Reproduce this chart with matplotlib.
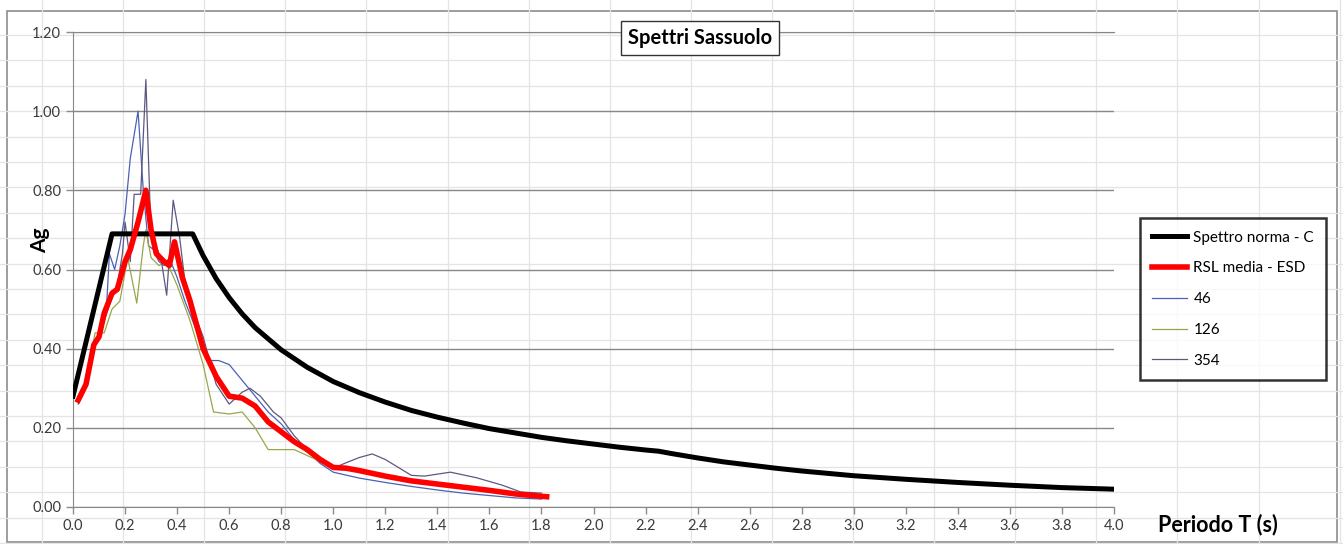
import numpy as np
import matplotlib
matplotlib.use("Agg")
import matplotlib.pyplot as plt
from matplotlib.patches import Rectangle

plt.rcParams['font.family'] = ['Lato', 'DejaVu Sans']

# spettro di normativa - categoria C
T_norma = [0.0, 0.15, 0.46, 0.5, 0.55, 0.6, 0.65, 0.7, 0.8, 0.9, 1.0, 1.1, 1.2, 1.3, 1.4,
           1.5, 1.6, 1.7, 1.8, 1.9, 2.0, 2.1, 2.2, 2.25, 2.3, 2.4, 2.5, 2.6, 2.7, 2.8, 2.9,
           3.0, 3.2, 3.4, 3.6, 3.8, 4.0]
A_norma = [0.28, 0.69, 0.69, 0.635, 0.577, 0.529, 0.488, 0.453, 0.397, 0.353, 0.317, 0.289,
           0.265, 0.244, 0.227, 0.212, 0.198, 0.187, 0.176, 0.167, 0.159, 0.151, 0.144, 0.141,
           0.135, 0.124, 0.114, 0.106, 0.098, 0.091, 0.085, 0.079, 0.070, 0.062, 0.055, 0.049,
           0.045]

# RSL media
T_rsl = [0.02, 0.05, 0.08, 0.10, 0.12, 0.15, 0.17, 0.20, 0.22, 0.25, 0.28, 0.30, 0.32, 0.35,
         0.37, 0.39, 0.42, 0.45, 0.50, 0.55, 0.60, 0.65, 0.70, 0.75, 0.80, 0.85, 0.90, 0.95,
         1.00, 1.05, 1.10, 1.20, 1.30, 1.40, 1.50, 1.60, 1.70, 1.80, 1.82]
A_rsl = [0.27, 0.31, 0.41, 0.43, 0.49, 0.54, 0.55, 0.62, 0.65, 0.72, 0.80, 0.70, 0.64, 0.62,
         0.61, 0.67, 0.58, 0.52, 0.40, 0.33, 0.28, 0.275, 0.255, 0.215, 0.19, 0.165, 0.145,
         0.12, 0.10, 0.098, 0.092, 0.078, 0.066, 0.058, 0.050, 0.042, 0.033, 0.027, 0.026]

# accelerogramma 46
T_46 = [0.02, 0.05, 0.08, 0.10, 0.13, 0.14, 0.16, 0.18, 0.20, 0.22, 0.25, 0.27, 0.29, 0.31,
        0.33, 0.35, 0.37, 0.40, 0.43, 0.46, 0.50, 0.53, 0.56, 0.60, 0.65, 0.70, 0.75, 0.80,
        0.85, 0.90, 0.95, 1.00, 1.10, 1.20, 1.30, 1.40, 1.50, 1.60, 1.70, 1.80]
A_46 = [0.27, 0.32, 0.40, 0.44, 0.52, 0.64, 0.60, 0.66, 0.74, 0.88, 1.00, 0.80, 0.66, 0.65,
        0.62, 0.61, 0.63, 0.58, 0.52, 0.47, 0.40, 0.37, 0.37, 0.36, 0.32, 0.28, 0.24, 0.21,
        0.17, 0.14, 0.11, 0.088, 0.073, 0.062, 0.052, 0.043, 0.035, 0.029, 0.023, 0.02]

# accelerogramma 126
T_126 = [0.02, 0.05, 0.085, 0.12, 0.15, 0.18, 0.21, 0.245, 0.27, 0.28, 0.30, 0.33, 0.36, 0.40,
         0.45, 0.50, 0.54, 0.60, 0.65, 0.70, 0.75, 0.85, 0.90, 0.95, 1.00, 1.10, 1.20, 1.30,
         1.40, 1.50, 1.60, 1.70, 1.80]
A_126 = [0.28, 0.32, 0.44, 0.44, 0.50, 0.52, 0.63, 0.515, 0.66, 0.70, 0.63, 0.61, 0.62, 0.56,
         0.47, 0.36, 0.24, 0.235, 0.24, 0.20, 0.145, 0.145, 0.13, 0.115, 0.10, 0.09, 0.08,
         0.07, 0.06, 0.05, 0.042, 0.035, 0.028]

# accelerogramma 354
T_354 = [0.02, 0.05, 0.08, 0.10, 0.13, 0.15, 0.17, 0.19, 0.20, 0.22, 0.235, 0.26, 0.28, 0.30,
         0.32, 0.34, 0.36, 0.385, 0.41, 0.43, 0.46, 0.50, 0.55, 0.60, 0.65, 0.68, 0.72, 0.77,
         0.80, 0.85, 0.90, 0.95, 1.00, 1.05, 1.10, 1.15, 1.20, 1.30, 1.35, 1.45, 1.55, 1.65,
         1.72, 1.80]
A_354 = [0.26, 0.31, 0.40, 0.43, 0.49, 0.53, 0.56, 0.64, 0.72, 0.62, 0.79, 0.79, 1.08, 0.68,
         0.66, 0.62, 0.535, 0.775, 0.68, 0.57, 0.50, 0.43, 0.31, 0.26, 0.29, 0.30, 0.28, 0.24,
         0.225, 0.18, 0.145, 0.12, 0.098, 0.112, 0.125, 0.134, 0.12, 0.08, 0.078, 0.088,
         0.074, 0.055, 0.038, 0.035]

W, H = 1343, 544
fig = plt.figure(figsize=(W / 100, H / 100), dpi=100)

# griglia del foglio di calcolo dietro al grafico
bg = fig.add_axes([0, 0, 1, 1], zorder=0)
bg.set_xlim(0, W); bg.set_ylim(H, 0)
bg.axis('off')
for x in np.arange(42, W, 81.1):
    bg.axvline(x, color='#e4e4e4', lw=0.9)
for y in np.arange(35, H, 25.4):
    bg.axhline(y, color='#e4e4e4', lw=0.9)
bg.add_patch(Rectangle((7, 11), 1330, 531, fill=False, ec='#8c8c8c', lw=1.2))

ax = fig.add_axes([73 / W, 1 - 507 / H, (1114 - 73) / W, (507 - 32) / H], zorder=1)
ax.patch.set_alpha(0)

ax.plot(T_norma, A_norma, color='black', lw=3.6, label='Spettro norma - C', zorder=3)
ax.plot(T_rsl, A_rsl, color='#ff0000', lw=4.0, label='RSL media - ESD', zorder=4)
ax.plot(T_46, A_46, color='#4a62b4', lw=0.9, label='46', zorder=2)
ax.plot(T_126, A_126, color='#9aa64a', lw=0.9, label='126', zorder=2)
ax.plot(T_354, A_354, color='#5c5880', lw=0.9, label='354', zorder=2)

ax.set_xlim(0, 4.0)
ax.set_ylim(0, 1.2)
ax.set_xticks(np.arange(0, 4.01, 0.2))
ax.set_xticklabels([f"{v:.1f}" for v in np.arange(0, 4.01, 0.2)])
ax.set_yticks(np.arange(0, 1.21, 0.2))
ax.set_yticklabels([f"{v:.2f}" for v in np.arange(0, 1.21, 0.2)])
ax.tick_params(colors='#8c8c8c', labelcolor='#3a3a3a', labelsize=10.5, length=5, width=1)
ax.yaxis.grid(True, color='#888888', lw=1)
ax.set_axisbelow(True)
ax.spines['right'].set_visible(False)
for s in ['left', 'bottom', 'top']:
    ax.spines[s].set_color('#888888')

fig.text(40 / W, 1 - 240 / H, 'Ag', rotation=90, ha='center', va='center',
         fontsize=15, fontweight='bold')
fig.text(1218 / W, 1 - 525 / H, 'Periodo T (s)', ha='center', va='center',
         fontsize=15.5, fontweight='bold')
fig.text(700 / W, 1 - 38 / H, 'Spettri Sassuolo', ha='center', va='center',
         fontsize=14.5, fontweight='bold',
         bbox=dict(boxstyle='square,pad=0.35', fc='white', ec='#333333', lw=1))

leg = ax.legend(loc='lower left', bbox_to_anchor=(1140 / W, 1 - 380 / H),
                bbox_transform=fig.transFigure, fontsize=11, frameon=True,
                fancybox=False, handlelength=2.3, labelspacing=1.1,
                borderpad=0.8, handletextpad=0.4, borderaxespad=0)
leg.get_frame().set_edgecolor('black')
leg.get_frame().set_linewidth(1.8)
leg.get_frame().set_facecolor('white')

fig.savefig('out.png', dpi=100)
